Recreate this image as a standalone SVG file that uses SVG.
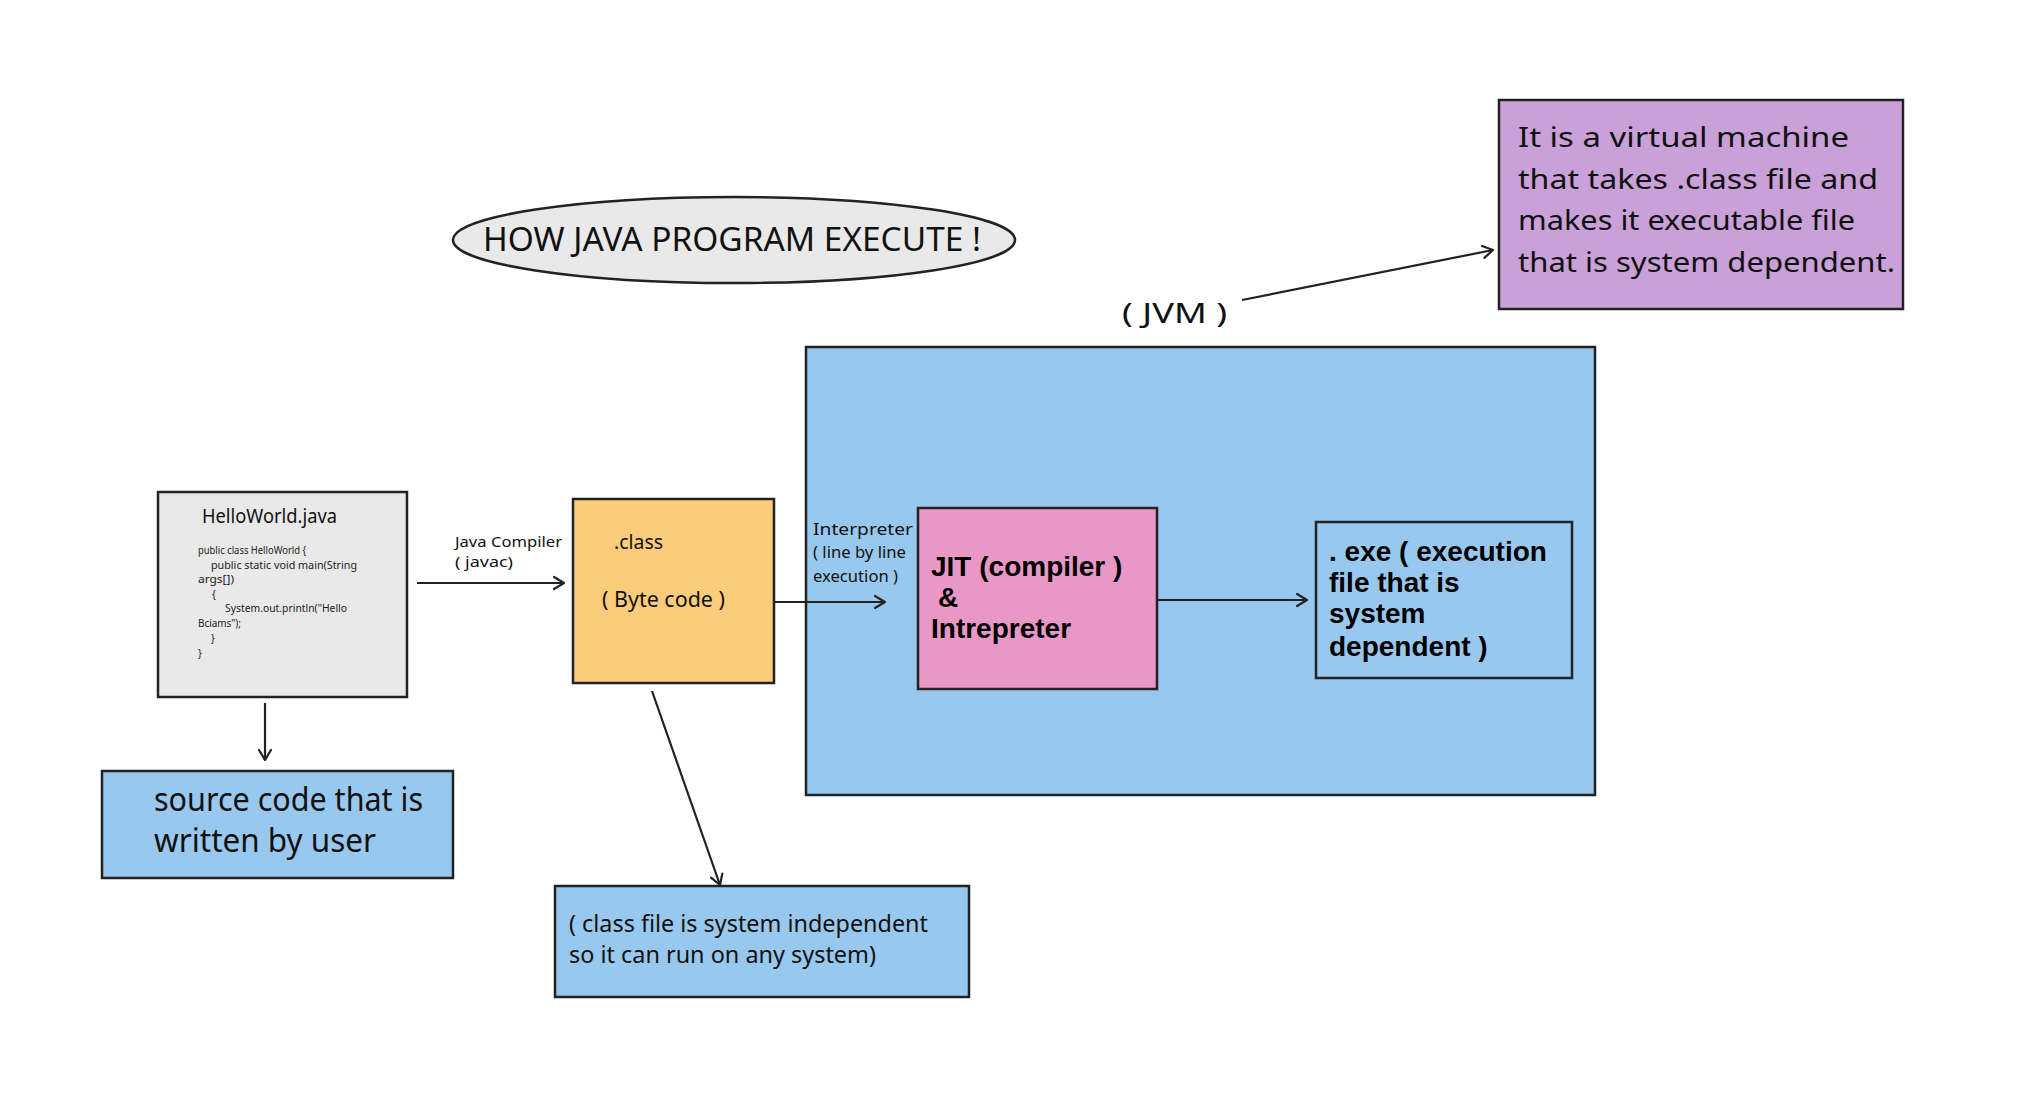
<svg xmlns="http://www.w3.org/2000/svg" width="2018" height="1099" viewBox="0 0 2018 1099">
<defs>
<marker id="arr" markerUnits="userSpaceOnUse" markerWidth="18" markerHeight="18" refX="13" refY="8" orient="auto">
<path d="M3,2 L13,8 L3,14" fill="none" stroke="#222" stroke-width="2.2" stroke-linecap="round" stroke-linejoin="round"/>
</marker>
</defs>
<style>
.box{stroke:#222;stroke-width:2.5}
.gray{fill:#e9e9e9}
.orange{fill:#fbcc7b}
.blue{fill:#99c8ee}
.pink{fill:#e998c5}
.purple{fill:#c9a1d8}
.hand{font-family:"Noto Sans","DejaVu Sans",sans-serif;fill:#111}
.bold{font-family:"Liberation Sans",Arial,sans-serif;font-weight:bold;font-size:28px;fill:#000}
.code{font-family:"Noto Sans","DejaVu Sans",sans-serif;font-size:10px;fill:#222}
.conn{fill:none;stroke:#222;stroke-width:2.2;marker-end:url(#arr)}
</style>
<rect width="2018" height="1099" fill="#fff"/>

<g id="title">
<ellipse cx="734" cy="240" rx="281" ry="43" class="box gray"/>
<text class="hand" x="483" y="251" font-size="33" textLength="498" lengthAdjust="spacingAndGlyphs">HOW JAVA PROGRAM EXECUTE !</text>
</g>

<g id="jvm">
<rect x="806" y="347" width="789" height="448" class="box blue"/>
<text class="hand" x="1122" y="323" font-size="28" textLength="105" lengthAdjust="spacingAndGlyphs">( JVM )</text>
</g>

<g id="jvm-note">
<rect x="1499" y="100" width="404" height="209" class="box purple"/>
<text class="hand" font-size="28" x="1518" y="147" textLength="331" lengthAdjust="spacingAndGlyphs">It is a virtual machine</text>
<text class="hand" font-size="28" x="1518" y="189" textLength="360" lengthAdjust="spacingAndGlyphs">that takes .class file and</text>
<text class="hand" font-size="28" x="1518" y="230" textLength="337" lengthAdjust="spacingAndGlyphs">makes it executable file</text>
<text class="hand" font-size="28" x="1518" y="272" textLength="377" lengthAdjust="spacingAndGlyphs">that is system dependent.</text>
</g>

<g id="helloworld">
<rect x="158" y="492" width="249" height="205" class="box gray"/>
<text class="hand" x="202" y="523" font-size="20" textLength="135" lengthAdjust="spacingAndGlyphs">HelloWorld.java</text>
<text class="code" x="198" y="554" textLength="108" lengthAdjust="spacingAndGlyphs">public class HelloWorld {</text>
<text class="code" x="211" y="569" textLength="146" lengthAdjust="spacingAndGlyphs">public static void main(String</text>
<text class="code" x="198" y="583" textLength="36" lengthAdjust="spacingAndGlyphs">args[])</text>
<text class="code" x="212" y="598">{</text>
<text class="code" x="225" y="612" textLength="122" lengthAdjust="spacingAndGlyphs">System.out.println("Hello</text>
<text class="code" x="198" y="627" textLength="43" lengthAdjust="spacingAndGlyphs">Bciams");</text>
<text class="code" x="211" y="642">}</text>
<text class="code" x="198" y="657">}</text>
</g>

<g id="source-note">
<rect x="102" y="771" width="351" height="107" class="box blue"/>
<text class="hand" font-size="32" x="154" y="811" textLength="269" lengthAdjust="spacingAndGlyphs">source code that is</text>
<text class="hand" font-size="32" x="154" y="852" textLength="222" lengthAdjust="spacingAndGlyphs">written by user</text>
</g>

<g id="classfile">
<rect x="573" y="499" width="201" height="184" class="box orange"/>
<text class="hand" x="614" y="549" font-size="20" textLength="49" lengthAdjust="spacingAndGlyphs">.class</text>
<text class="hand" x="602" y="607" font-size="21" textLength="123" lengthAdjust="spacingAndGlyphs">( Byte code )</text>
</g>

<g id="class-note">
<rect x="555" y="886" width="414" height="111" class="box blue"/>
<text class="hand" font-size="24" x="569" y="932" textLength="359" lengthAdjust="spacingAndGlyphs">( class file is system independent</text>
<text class="hand" font-size="24" x="569" y="963" textLength="307" lengthAdjust="spacingAndGlyphs">so it can run on any system)</text>
</g>

<g id="jit">
<rect x="918" y="508" width="239" height="181" class="box pink"/>
<text class="bold" x="931" y="576">JIT (compiler )</text>
<text class="bold" x="938" y="607">&amp;</text>
<text class="bold" x="931" y="638">Intrepreter</text>
</g>

<g id="exe">
<rect x="1316" y="522" width="256" height="156" class="box blue"/>
<text class="bold" x="1329" y="561">. exe ( execution</text>
<text class="bold" x="1329" y="592">file that is</text>
<text class="bold" x="1329" y="623">system</text>
<text class="bold" x="1329" y="656">dependent )</text>
</g>

<g id="connectors">
<path class="conn" d="M417,583 L564,583"/>
<path class="conn" d="M265,703 L265,760"/>
<path class="conn" d="M652,691 L720,885"/>
<path class="conn" d="M775,602 L885,602"/>
<path class="conn" d="M1157,600 L1307,600"/>
<path class="conn" d="M1242,300 L1493,250"/>
</g>

<g id="labels">
<text class="hand" x="455" y="547" font-size="15" textLength="107" lengthAdjust="spacingAndGlyphs">Java Compiler</text>
<text class="hand" x="455" y="567" font-size="15" textLength="58" lengthAdjust="spacingAndGlyphs">( javac)</text>
<text class="hand" x="813" y="535" font-size="16" textLength="100" lengthAdjust="spacingAndGlyphs">Interpreter</text>
<text class="hand" x="813" y="558" font-size="16" textLength="93" lengthAdjust="spacingAndGlyphs">( line by line</text>
<text class="hand" x="813" y="582" font-size="16" textLength="85" lengthAdjust="spacingAndGlyphs">execution )</text>
</g>
</svg>
